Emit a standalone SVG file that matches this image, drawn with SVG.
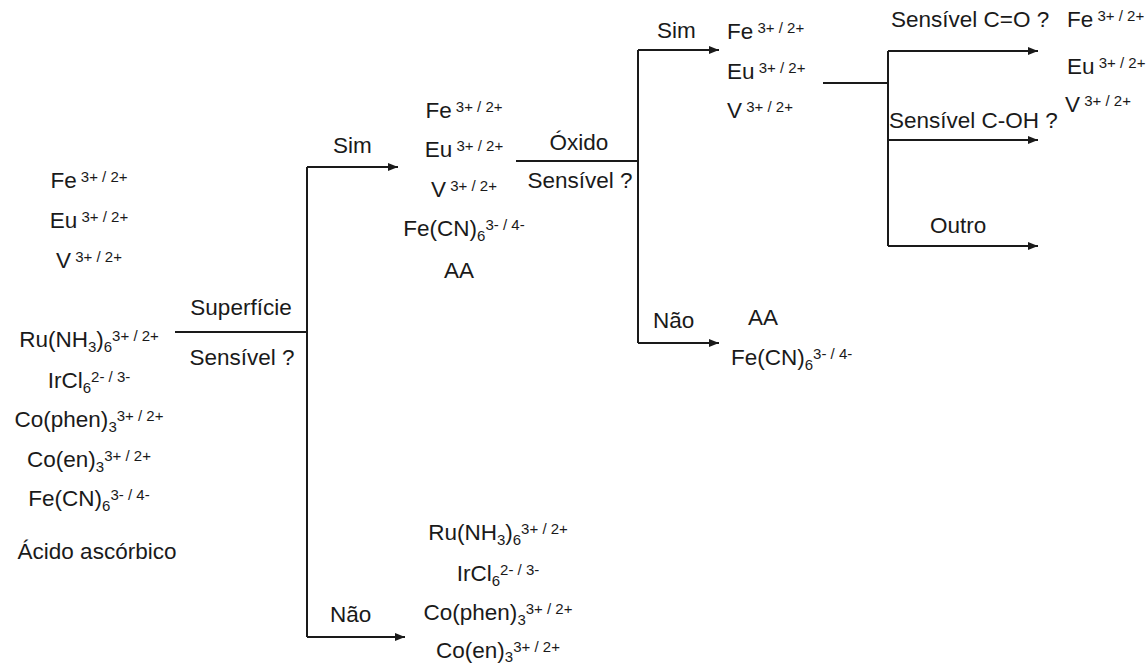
<svg xmlns="http://www.w3.org/2000/svg" width="1148" height="664" viewBox="0 0 1148 664">
<style>
text{font-family:"Liberation Sans",Arial,sans-serif;font-size:22.5px;fill:#1a1a1a}
.s{font-size:15px}
.m{text-anchor:middle}
.ln{stroke:#1a1a1a;stroke-width:2;fill:none}
</style>
<defs>
<marker id="arr" markerWidth="10" markerHeight="8" refX="10" refY="4" orient="auto" markerUnits="userSpaceOnUse"><path d="M0,0 L10,4 L0,8 z" fill="#1a1a1a"/></marker>
</defs>
<rect width="1148" height="664" fill="#fff"/>
<g id="connectors">
<path class="ln" d="M175,332 H307"/>
<path class="ln" d="M307,167 V637"/>
<path class="ln" d="M307,167 H398" marker-end="url(#arr)"/>
<path class="ln" d="M307,637 H405" marker-end="url(#arr)"/>
<path class="ln" d="M516,161 H638"/>
<path class="ln" d="M638,50 V343"/>
<path class="ln" d="M638,50 H719" marker-end="url(#arr)"/>
<path class="ln" d="M638,343 H719" marker-end="url(#arr)"/>
<path class="ln" d="M823,83 H888"/>
<path class="ln" d="M888,51 V246"/>
<path class="ln" d="M888,51 H1038" marker-end="url(#arr)"/>
<path class="ln" d="M888,140 H1038" marker-end="url(#arr)"/>
<path class="ln" d="M888,246 H1038" marker-end="url(#arr)"/>
</g>
<g id="all-species">
<text class="m" x="89" y="188">Fe<tspan class="s" dy="-6"> 3+ / 2+</tspan></text>
<text class="m" x="89" y="228">Eu<tspan class="s" dy="-6"> 3+ / 2+</tspan></text>
<text class="m" x="89" y="268">V<tspan class="s" dy="-6"> 3+ / 2+</tspan></text>
<text class="m" x="89" y="347">Ru(NH<tspan class="s" dy="5">3</tspan><tspan dy="-5">)</tspan><tspan class="s" dy="5">6</tspan><tspan class="s" dy="-11">3+ / 2+</tspan></text>
<text class="m" x="89" y="388">IrCl<tspan class="s" dy="5">6</tspan><tspan class="s" dy="-11">2- / 3-</tspan></text>
<text class="m" x="89" y="427">Co(phen)<tspan class="s" dy="5">3</tspan><tspan class="s" dy="-11">3+ / 2+</tspan></text>
<text class="m" x="89" y="467">Co(en)<tspan class="s" dy="5">3</tspan><tspan class="s" dy="-11">3+ / 2+</tspan></text>
<text class="m" x="89" y="506">Fe(CN)<tspan class="s" dy="5">6</tspan><tspan class="s" dy="-11">3- / 4-</tspan></text>
<text class="m" x="97" y="559">Ácido ascórbico</text>
</g>
<g id="q-superficie">
<text class="m" x="241" y="315">Superfície</text>
<text class="m" x="242" y="365">Sensível ?</text>
</g>
<g id="label-sim-1"><text x="333" y="153">Sim</text></g>
<g id="label-nao-1"><text x="330" y="622">Não</text></g>
<g id="surface-sensitive">
<text class="m" x="464" y="118">Fe<tspan class="s" dy="-6"> 3+ / 2+</tspan></text>
<text class="m" x="464" y="157">Eu<tspan class="s" dy="-6"> 3+ / 2+</tspan></text>
<text class="m" x="464" y="197">V<tspan class="s" dy="-6"> 3+ / 2+</tspan></text>
<text class="m" x="464" y="236">Fe(CN)<tspan class="s" dy="5">6</tspan><tspan class="s" dy="-11">3- / 4-</tspan></text>
<text class="m" x="459" y="278">AA</text>
</g>
<g id="surface-insensitive">
<text class="m" x="498" y="540">Ru(NH<tspan class="s" dy="5">3</tspan><tspan dy="-5">)</tspan><tspan class="s" dy="5">6</tspan><tspan class="s" dy="-11">3+ / 2+</tspan></text>
<text class="m" x="498" y="581">IrCl<tspan class="s" dy="5">6</tspan><tspan class="s" dy="-11">2- / 3-</tspan></text>
<text class="m" x="498" y="620">Co(phen)<tspan class="s" dy="5">3</tspan><tspan class="s" dy="-11">3+ / 2+</tspan></text>
<text class="m" x="498" y="658">Co(en)<tspan class="s" dy="4">3</tspan><tspan class="s" dy="-10">3+ / 2+</tspan></text>
</g>
<g id="q-oxido">
<text class="m" x="579" y="150">Óxido</text>
<text class="m" x="580" y="188">Sensível ?</text>
</g>
<g id="label-sim-2"><text x="657" y="38">Sim</text></g>
<g id="label-nao-2"><text x="653" y="328">Não</text></g>
<g id="oxide-sensitive">
<text x="727" y="39">Fe<tspan class="s" dy="-6"> 3+ / 2+</tspan></text>
<text x="727" y="79">Eu<tspan class="s" dy="-6"> 3+ / 2+</tspan></text>
<text x="727" y="118">V<tspan class="s" dy="-6"> 3+ / 2+</tspan></text>
</g>
<g id="oxide-insensitive">
<text x="748" y="325">AA</text>
<text x="731" y="365">Fe(CN)<tspan class="s" dy="5">6</tspan><tspan class="s" dy="-11">3- / 4-</tspan></text>
</g>
<g id="label-co"><text x="891" y="27">Sensível C=O ?</text></g>
<g id="label-coh"><text x="889" y="128">Sensível C-OH ?</text></g>
<g id="label-outro"><text x="930" y="233">Outro</text></g>
<g id="result-species">
<text x="1067" y="27">Fe<tspan class="s" dy="-6"> 3+ / 2+</tspan></text>
<text x="1067" y="74">Eu<tspan class="s" dy="-6"> 3+ / 2+</tspan></text>
<text x="1065" y="112">V<tspan class="s" dy="-6"> 3+ / 2+</tspan></text>
</g>
</svg>
